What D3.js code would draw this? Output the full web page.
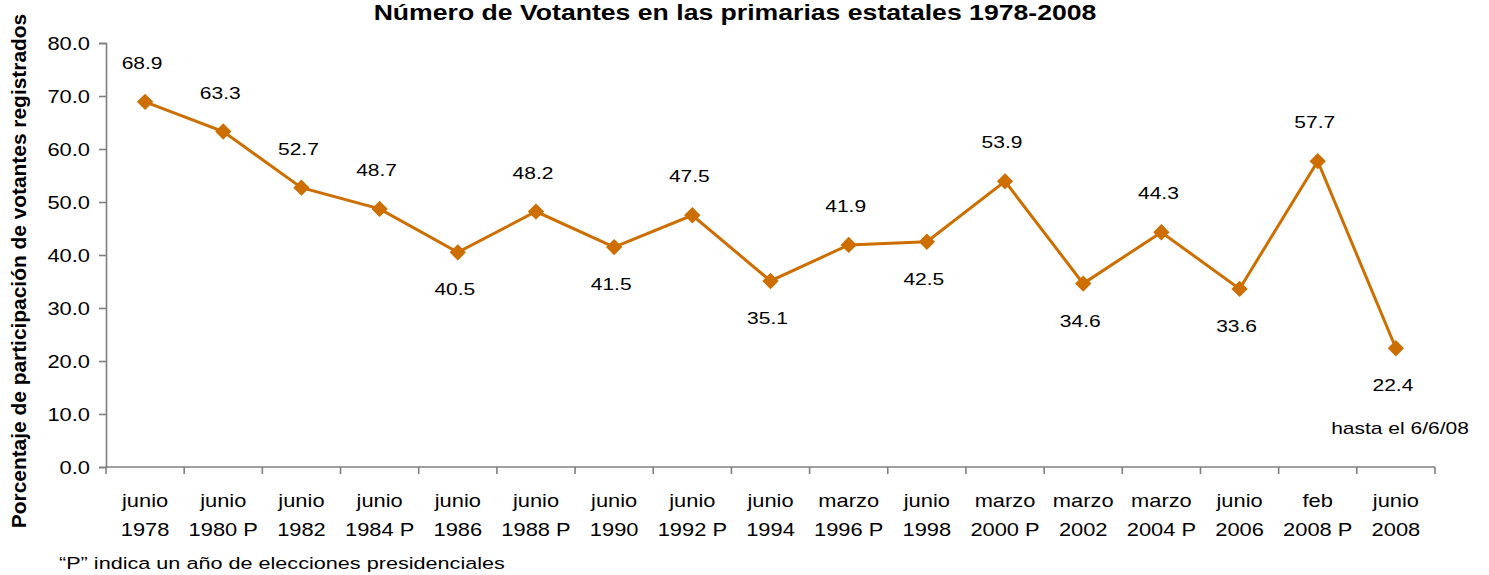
<!DOCTYPE html>
<html>
<head>
<meta charset="utf-8">
<script src="https://cdn.jsdelivr.net/npm/d3@7"></script>
<style>
  body { margin:0; background:#fff; }
  text { font-family: "Liberation Sans", Arial, Helvetica, sans-serif; fill:#000; }
</style>
</head>
<body>
<div id="chart"></div>
<script>
// data
const months = ["junio","junio","junio","junio","junio","junio","junio","junio","junio","marzo","junio","marzo","marzo","marzo","junio","feb","junio"];
const years  = ["1978","1980 P","1982","1984 P","1986","1988 P","1990","1992 P","1994","1996 P","1998","2000 P","2002","2004 P","2006","2008 P","2008"];
const turnout = [68.9,63.3,52.7,48.7,40.5,48.2,41.5,47.5,35.1,41.9,42.5,53.9,34.6,44.3,33.6,57.7,22.4];
// where excel put each data label: a = above, b = below
const labelSide = ["a","a","a","a","b","a","b","a","b","a","b","a","b","a","b","a","b"];
const yTicks = [0,10,20,30,40,50,60,70,80];

var W = 1489, H = 575;
var SX = 1.25;   // the picture text is a bit stretched sideways
var orange = "#cc6e00";
var axisGrey = "#7f7f7f";

var margin = {left:106, right:54, top:43, bottom:108};

var svg = d3.select("#chart").append("svg")
  .attr("width",W).attr("height",H);

var x = d3.scaleBand()
  .domain(d3.range(turnout.length))
  .range([margin.left, W-margin.right]);

var y = d3.scaleLinear()
  .domain([0,80])
  .range([H-margin.bottom, margin.top]);

// helper: text stretched horizontally
function txt(g, s, px, py, size, anchor, bold){
  return g.append("text")
    .attr("transform","translate("+px+","+py+") scale("+SX+",1)")
    .attr("text-anchor",anchor||"middle")
    .style("font-size",size+"px")
    .style("font-weight",bold?"bold":"normal")
    .text(s);
}

// y axis
var yAxis = svg.append("g")
  .attr("transform","translate("+margin.left+",0)")
  .call(d3.axisLeft(y).tickValues(yTicks).tickSize(7).tickFormat(""));
yAxis.selectAll("line, path").attr("stroke",axisGrey).attr("stroke-width",1.6);
yTicks.forEach(function(t){
  txt(svg, d3.format(".1f")(t), 90, y(t)+6.5, 17.5, "end");
});

// x axis, ticks between categories
var xEdges = d3.range(turnout.length+1).map(function(i){
  return i<turnout.length ? x(i) : x(i-1)+x.bandwidth();
});
var xAxisG = svg.append("g");
xAxisG.append("line")
  .attr("x1",margin.left).attr("x2",W-margin.right)
  .attr("y1",y(0)).attr("y2",y(0))
  .attr("stroke",axisGrey).attr("stroke-width",1.6);
xAxisG.selectAll(".xt").data(xEdges).enter().append("line")
  .attr("x1",function(d){return d;}).attr("x2",function(d){return d;})
  .attr("y1",y(0)).attr("y2",y(0)+7)
  .attr("stroke",axisGrey).attr("stroke-width",1.6);

turnout.forEach(function(v,i){
  var cx = x(i)+x.bandwidth()/2;
  txt(svg, months[i], cx, 507, 17.5);
  txt(svg, years[i], cx, 536, 17.5);
});

// line + diamonds
var line = d3.line()
  .x(function(d,i){return x(i)+x.bandwidth()/2;})
  .y(function(d){return y(d);});

svg.append("path")
  .datum(turnout)
  .attr("d",line)
  .attr("fill","none")
  .attr("stroke",orange)
  .attr("stroke-width",3);

svg.selectAll(".pt").data(turnout).enter().append("path")
  .attr("class","pt")
  .attr("d",d3.symbol().type(d3.symbolDiamond2).size(170))
  .attr("transform",function(d,i){
    return "translate("+(x(i)+x.bandwidth()/2)+","+y(d)+")";
  })
  .attr("fill",orange);

// data labels
turnout.forEach(function(v,i){
  var cx = x(i)+x.bandwidth()/2 - 3;
  var cy = labelSide[i]=="a" ? y(v)-33 : y(v)+43;
  txt(svg, d3.format(".1f")(v), cx, cy, 16.8);
});

txt(svg, "hasta el 6/6/08", 1400, 434, 16.8);

// title
txt(svg, "Número de Votantes en las primarias estatales 1978-2008", 735, 20, 21.3, "middle", true);

// y title (rotated)
svg.append("text")
  .attr("transform","translate(26,271) rotate(-90)")
  .attr("text-anchor","middle")
  .style("font-size","20.9px")
  .style("font-weight","bold")
  .text("Porcentaje de participación de votantes registrados");

// footnote
txt(svg, "“P” indica un año de elecciones presidenciales", 59, 569, 17.3, "start");
</script>
</body>
</html>
